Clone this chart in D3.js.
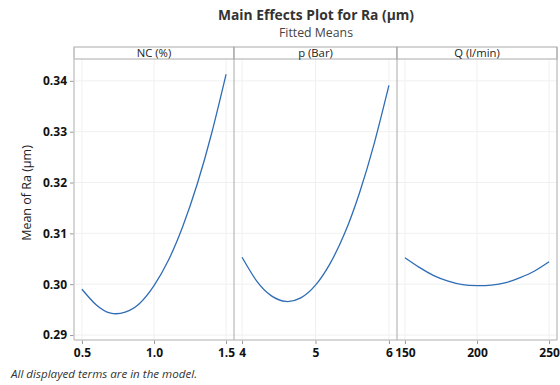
<!DOCTYPE html>
<html><head><meta charset="utf-8">
<script src="https://cdn.jsdelivr.net/npm/d3@7"></script>
<style>body{margin:0;background:#fff}svg{display:block}text{font-family:"Open Sans","Noto Sans",sans-serif}</style>
</head><body><svg id="c" width="560" height="385"></svg>
<script>
const title = "Main Effects Plot for Ra (µm)";
const subtitle = "Fitted Means";
const yLabel = "Mean of Ra (µm)";
const footnote = "All displayed terms are in the model.";
const factors = ["NC (%)", "p (Bar)", "Q (l/min)"];
const ncX = [0.5,0.6,0.7,0.8,0.9,1.0,1.1,1.2,1.3,1.4,1.5];
const ncY = [0.2990,0.2959,0.2943,0.2945,0.2962,0.2997,0.3047,0.3114,0.3197,0.3297,0.3413];
const pX = [4.0,4.2,4.4,4.6,4.8,5.0,5.2,5.4,5.6,5.8,6.0];
const pY = [0.3053,0.3006,0.2977,0.2966,0.2973,0.2998,0.3041,0.3101,0.3180,0.3277,0.3391];
const qX = [150,160,170,180,190,200,210,220,230,240,250];
const qY = [0.3052,0.3033,0.3017,0.3006,0.2999,0.2997,0.2998,0.3003,0.3013,0.3026,0.3044];
const xTicks = [[0.5,1.0,1.5],[4,5,6],[150,200,250]];
const xTickFmt = [d3.format(".1f"), d3.format("d"), d3.format("d")];
const yTicks = [0.29,0.30,0.31,0.32,0.33,0.34];

const svg = d3.select("#c");
const mLeft = 74, mRight = 557, mTop = 47, strip = 12, mBottom = 340;
const plotTop = mTop + strip;
const y = d3.scaleLinear().domain([0.28902, 0.3443]).range([mBottom, plotTop]);
const panelEdges = [74, 234, 397, 557];
const series = [[ncX,ncY],[pX,pY],[qX,qY]];

svg.append("text").attr("x",316).attr("y",19.5).attr("text-anchor","middle")
  .attr("font-size",13.8).attr("font-weight","bold").attr("fill","#333").text(title);
svg.append("text").attr("x",316).attr("y",37).attr("text-anchor","middle")
  .attr("font-size",12.3).attr("fill","#444").text(subtitle);
svg.append("text").attr("transform","translate(31,193) rotate(-90)").attr("text-anchor","middle")
  .attr("font-size",12.5).attr("fill","#222").text(yLabel);
svg.append("text").attr("x",11).attr("y",378).attr("font-size",11.6).attr("font-style","italic")
  .attr("fill","#333").text(footnote);

const yAx = svg.append("g").attr("transform",`translate(${mLeft},0)`)
  .call(d3.axisLeft(y).tickValues(yTicks).tickFormat(d3.format(".2f")).tickSize(4).tickPadding(3));
yAx.select(".domain").remove();
yAx.selectAll("line").attr("stroke","#999");
yAx.selectAll("text").attr("font-size",12).attr("font-weight","bold").attr("fill","#111")
  .attr("font-family","'Open Sans',sans-serif");

series.forEach((s,i)=>{
  const x0 = panelEdges[i], x1 = panelEdges[i+1];
  const dom = d3.extent(xTicks[i]);
  const pad = (dom[1]-dom[0])*0.055;
  const x = d3.scaleLinear().domain([dom[0]-pad, dom[1]+pad]).range([x0, x1]);
  const g = svg.append("g");
  g.selectAll(".vg").data(xTicks[i]).join("line")
    .attr("x1",d=>x(d)).attr("x2",d=>x(d)).attr("y1",plotTop).attr("y2",mBottom)
    .attr("stroke","#f0f0f0");
  g.selectAll(".hg").data(yTicks).join("line")
    .attr("x1",x0).attr("x2",x1).attr("y1",d=>y(d)).attr("y2",d=>y(d))
    .attr("stroke","#f0f0f0");
  g.append("rect").attr("x",x0).attr("y",mTop).attr("width",x1-x0).attr("height",strip)
    .attr("fill","#fff").attr("stroke","#aaa").attr("stroke-width",1);
  g.append("text").attr("x",(x0+x1)/2).attr("y",mTop+10).attr("text-anchor","middle")
    .attr("font-size",11.3).attr("fill","#222").text(factors[i]);
  const xa = g.append("g").attr("transform",`translate(0,${mBottom})`)
    .call(d3.axisBottom(x).tickValues(xTicks[i]).tickFormat(xTickFmt[i]).tickSize(4).tickPadding(4));
  xa.select(".domain").remove();
  xa.selectAll("line").attr("stroke","#999");
  xa.selectAll("text").attr("font-size",12).attr("font-weight","bold").attr("fill","#111")
    .attr("font-family","'Open Sans',sans-serif");
  const data = s[0].map((v,j)=>[v,s[1][j]]);
  g.append("path").datum(data).attr("fill","none").attr("stroke","#2e6db6").attr("stroke-width",1.3)
    .attr("d", d3.line().x(d=>x(d[0])).y(d=>y(d[1])).curve(d3.curveNatural));
});

svg.append("line").attr("x1",mLeft).attr("x2",mRight).attr("y1",mBottom).attr("y2",mBottom).attr("stroke","#c8c8c8").attr("stroke-width",1.5);
svg.append("line").attr("x1",mLeft).attr("x2",mLeft).attr("y1",mTop).attr("y2",mBottom).attr("stroke","#c8c8c8").attr("stroke-width",1.5);
panelEdges.slice(1).forEach(px=>{
  svg.append("line").attr("x1",px).attr("x2",px).attr("y1",mTop).attr("y2",mBottom).attr("stroke","#aaa").attr("stroke-width",1);
});
</script></body></html>
